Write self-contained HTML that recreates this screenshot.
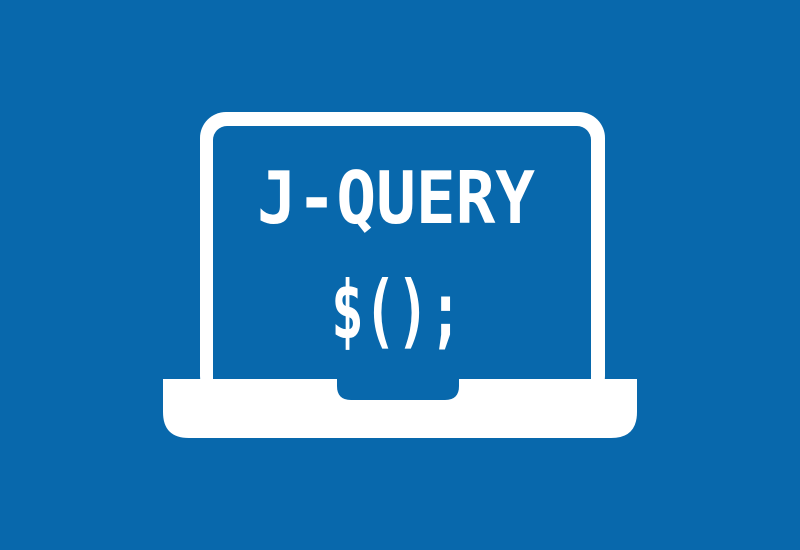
<!DOCTYPE html>
<html><head><meta charset="utf-8"><style>html,body{margin:0;padding:0;background:#0868ac}svg{display:block}</style></head>
<body>
<svg width="800" height="550" viewBox="0 0 800 550" xmlns="http://www.w3.org/2000/svg">
<rect width="800" height="550" fill="#0868ac"/>
<rect x="200" y="112" width="405" height="290" rx="26" fill="#fff"/>
<rect x="213" y="126" width="378" height="290" rx="14" fill="#0868ac"/>
<path d="M163 379 H637 V412 Q637 438 611 438 H189 Q163 438 163 412 Z" fill="#fff"/>
<path d="M337 379 H459 V386 Q459 400 445 400 H351 Q337 400 337 386 Z" fill="#0868ac"/>
<text x="257" y="223" textLength="278" lengthAdjust="spacingAndGlyphs" font-family="DejaVu Sans Mono, Liberation Mono, monospace" font-weight="bold" font-size="72" fill="#fff">J-QUERY</text>
<text x="331" y="338" textLength="131" lengthAdjust="spacingAndGlyphs" font-family="DejaVu Sans Mono, Liberation Mono, monospace" font-weight="bold" font-size="80" fill="#fff">$();</text>
</svg>
</body></html>
